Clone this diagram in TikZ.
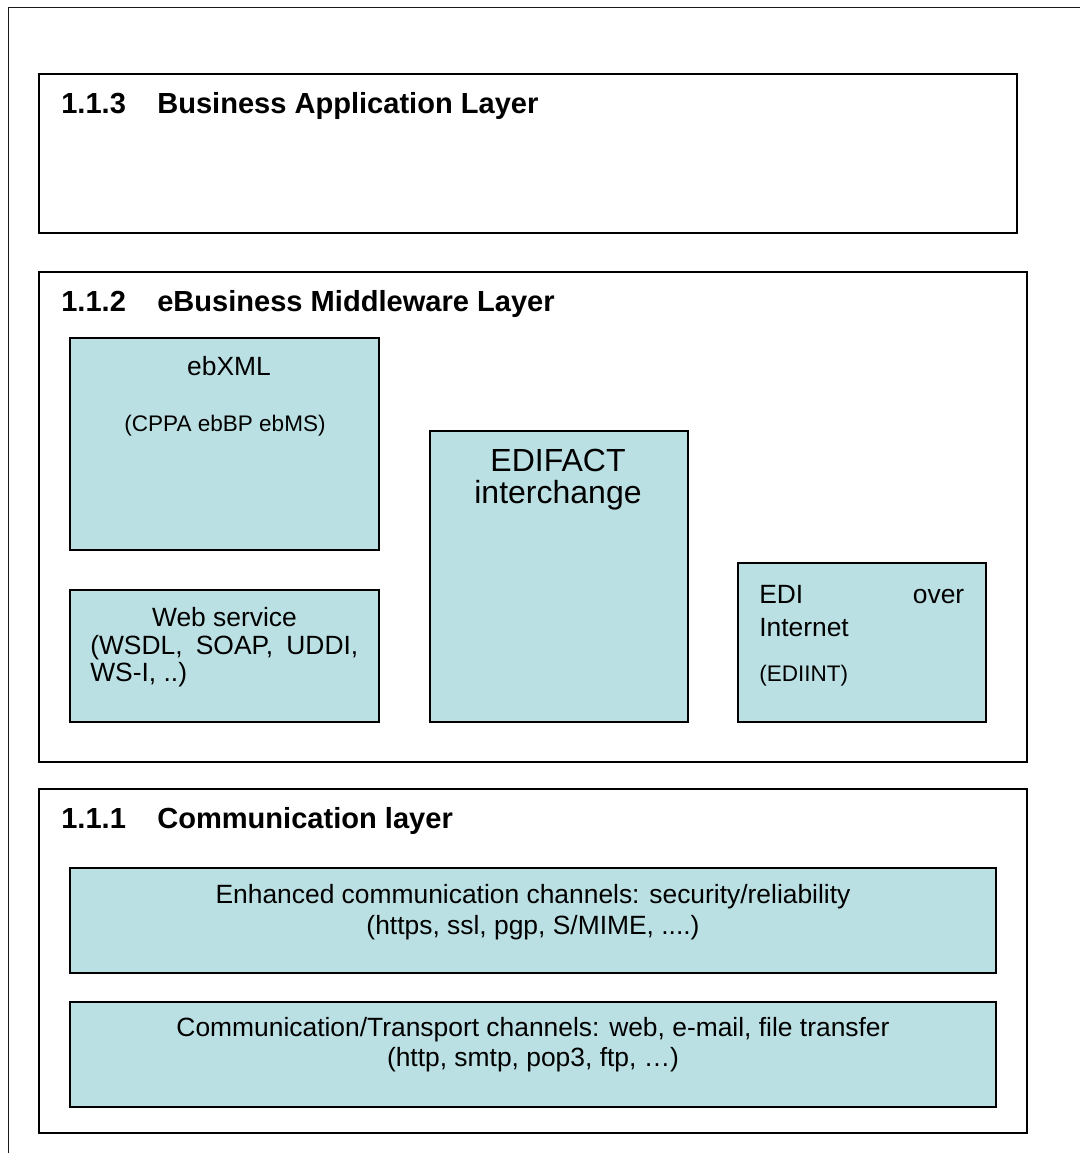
\documentclass[tikz,border=0pt]{standalone}
\usepackage{fontspec}
\setmainfont{Liberation Sans}
\usetikzlibrary{fit}
\definecolor{boxblue}{HTML}{BBE0E3}
\begin{document}
\begin{tikzpicture}[x=0.75pt,y=-0.75pt,
  layer/.style={draw=black, line width=1.4pt, fill=white, inner sep=0pt},
  comp/.style={draw=black, line width=1.4pt, fill=boxblue, inner sep=0pt},
  txt/.style={inner sep=0pt, font=\fontsize{19.8}{24}\selectfont},
  ttl/.style={inner sep=0pt, font=\fontsize{21.8}{26}\selectfont\bfseries, anchor=base west},
  small/.style={inner sep=0pt, font=\fontsize{16.9}{20}\selectfont},
  big/.style={inner sep=0pt, font=\fontsize{24}{28}\selectfont}]
\useasboundingbox (0,0) rectangle (1080,1153);
\begin{scope}
\clip (0,0) rectangle (1080,1153);
\node[draw=black!90, line width=1.4pt, inner sep=0pt, fit={(8.5,7.5) (1110,1190)}] (outer) {};
\end{scope}

% Business application layer
\node[layer, fit={(39,74) (1017,233)}] (bal) {};
\node[ttl] (balN) at (61,113) {1.1.3};
\node[ttl] (balT) at (157,113) {Business Application Layer};

% Middleware layer
\node[layer, fit={(39,272) (1027,762)}] (mid) {};
\node[ttl] (midN) at (61,311) {1.1.2};
\node[ttl] (midT) at (157,311) {eBusiness Middleware Layer};

\node[comp, fit={(70,338) (379,550)}] (ebxml) {};
\node[txt, anchor=base] (ebxmlT) at (229,375) {ebXML};
\node[small, anchor=base] (ebxmlS) at (225,431) {(CPPA ebBP ebMS)};

\node[comp, fit={(70,590) (379,722)}] (ws) {};
\node[txt, anchor=base] (wsT) at (224.5,626) {Web service};
\node[txt, anchor=base west] (wsS1) at (90,654) {\makebox[201pt][s]{(WSDL, SOAP, UDDI,}};
\node[txt, anchor=base west] (wsS2) at (90,681) {WS-I, ..)};

\node[comp, fit={(430,431) (688,722)}] (edifact) {};
\node[big, anchor=base] (edifactT) at (558,471) {EDIFACT};
\node[big, anchor=base] (edifactS) at (558,503) {interchange};

\node[comp, fit={(738,563) (986,722)}] (ediint) {};
\node[txt, anchor=base west] (ediintT) at (759,603) {\makebox[153.75pt][s]{EDI over}};
\node[txt, anchor=base west] (ediintT2) at (759,636) {Internet};
\node[small, anchor=base west] (ediintS) at (759,681) {(EDIINT)};

% Communication layer
\node[layer, fit={(39,789) (1027,1133)}] (comm) {};
\node[ttl] (commN) at (61,828) {1.1.1};
\node[ttl] (commT) at (157,828) {Communication layer};

\node[comp, fit={(70,868) (996,973)}] (enh) {};
\node[txt, anchor=base] (enhT) at (533,903) {Enhanced communication channels: security/reliability};
\node[txt, anchor=base] (enhS) at (533,934) {(https, ssl, pgp, S/MIME, ....)};

\node[comp, fit={(70,1002) (996,1107)}] (trans) {};
\node[txt, anchor=base] (transT) at (533,1036) {Communication/Transport channels: web, e-mail, file transfer};
\node[txt, anchor=base] (transS) at (533,1066) {(http, smtp, pop3, ftp, …)};
\end{tikzpicture}
\end{document}
